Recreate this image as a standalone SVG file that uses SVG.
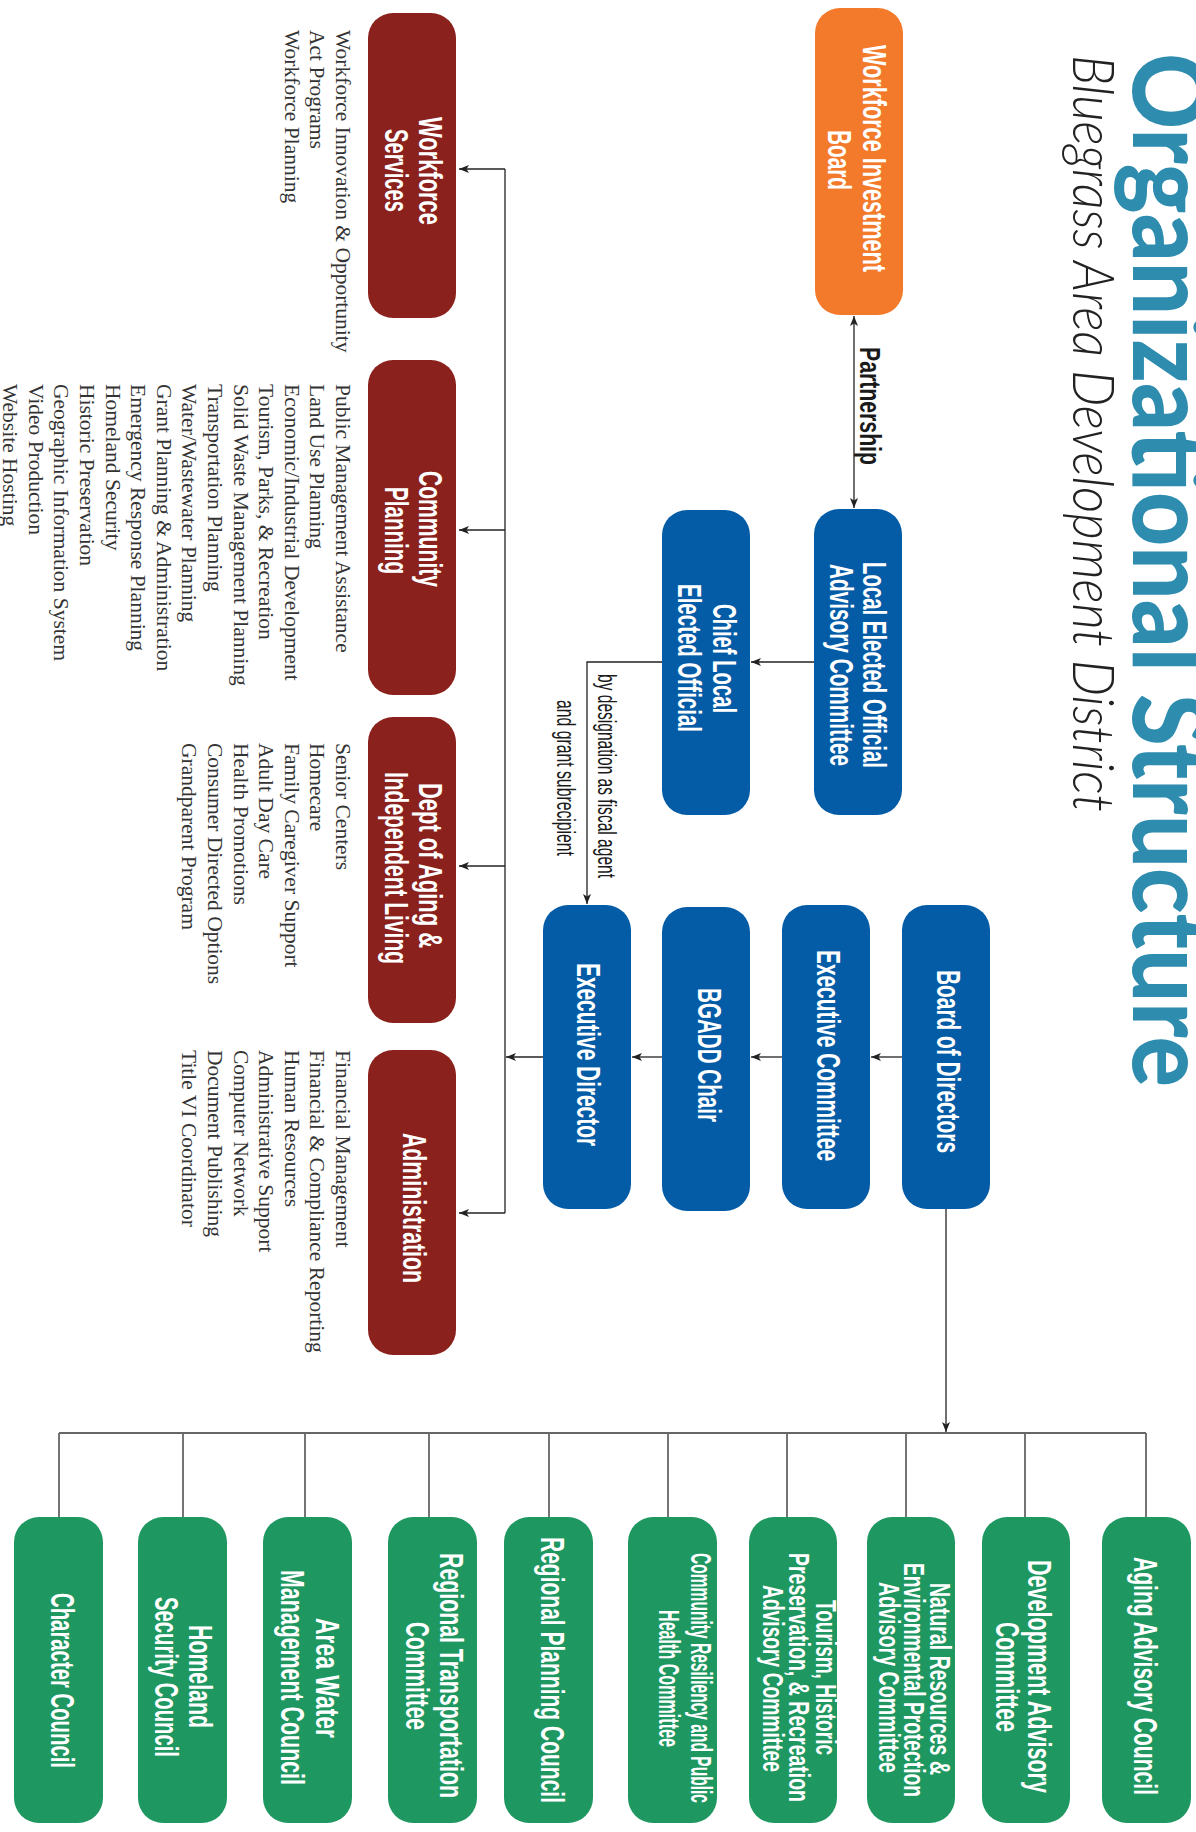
<svg xmlns="http://www.w3.org/2000/svg" width="1196" height="1832" viewBox="0 0 1196 1832">
<defs>
<marker id="arr" viewBox="0 0 10 8" refX="10" refY="4" markerWidth="10" markerHeight="8" markerUnits="userSpaceOnUse" orient="auto-start-reverse"><path d="M0,0 L10,4 L0,8 L2.5,4 z" fill="#222"/></marker>
</defs>
<style>
.t{font-family:"Liberation Sans",Arial,sans-serif;font-weight:bold;font-size:33px;fill:#fff}
.t29{font-size:29px}
.t30{font-size:30px}
.l{font-family:"Liberation Serif","Times New Roman",serif;font-size:21.5px;fill:#333}
.c{stroke:#222;stroke-width:1.3;fill:none}
.g{stroke:#666;stroke-width:1.8;fill:none}
.orange{fill:#F47A2B}
.blue{fill:#045CA7}
.red{fill:#8A211D}
.green{fill:#1E9761}
.lab{font-family:"Liberation Sans",Arial,sans-serif;fill:#1a1a1a}
</style>
<rect width="1196" height="1832" fill="#fff"/>

<g id="title">
<text transform="rotate(90)" x="53" y="-1133" textLength="1034" lengthAdjust="spacingAndGlyphs" style="font-family:Lato,'Liberation Sans',sans-serif;font-weight:900;font-size:104px;fill:#2E8CAF">Organizational Structure</text>
<text transform="rotate(90)" x="55" y="-1073" textLength="757" lengthAdjust="spacingAndGlyphs" style="font-family:Lato,'Liberation Sans',sans-serif;font-weight:300;font-style:italic;font-size:58px;fill:#222">Bluegrass Area Development District</text>
</g>

<g id="connectors">
<line class="c" x1="854" y1="316" x2="854" y2="508" marker-start="url(#arr)" marker-end="url(#arr)"/>
<text class="lab" transform="rotate(90)" x="347" y="-860" textLength="118" lengthAdjust="spacingAndGlyphs" style="font-weight:bold;font-size:29px">Partnership</text>
<line class="c" x1="814" y1="662" x2="751" y2="662" marker-end="url(#arr)"/>
<polyline class="c" points="662,662 587,662 587,904" marker-end="url(#arr)"/>
<text class="lab" transform="rotate(90)" x="674" y="-598" textLength="204" lengthAdjust="spacingAndGlyphs" style="font-size:26px">by designation as fiscal agent</text>
<text class="lab" transform="rotate(90)" x="700" y="-557" textLength="156" lengthAdjust="spacingAndGlyphs" style="font-size:26px">and grant subrecipient</text>
<line class="c" x1="902" y1="1057" x2="871" y2="1057" marker-end="url(#arr)"/>
<line class="c" x1="782" y1="1057" x2="751" y2="1057" marker-end="url(#arr)"/>
<line class="c" x1="662" y1="1057" x2="632" y2="1057" marker-end="url(#arr)"/>
<line class="c" x1="543" y1="1057" x2="506" y2="1057" marker-end="url(#arr)"/>
<line class="c" x1="505" y1="169" x2="505" y2="1213"/>
<line class="c" x1="505" y1="169" x2="459" y2="169" marker-end="url(#arr)"/>
<line class="c" x1="505" y1="530" x2="459" y2="530" marker-end="url(#arr)"/>
<line class="c" x1="505" y1="866" x2="459" y2="866" marker-end="url(#arr)"/>
<line class="c" x1="505" y1="1213" x2="459" y2="1213" marker-end="url(#arr)"/>
<line class="c" x1="946" y1="1209" x2="946" y2="1432" marker-end="url(#arr)"/>
<line class="g" x1="59" y1="1433" x2="1146" y2="1433"/>
<path class="g" d="M59,1433V1517 M183,1433V1517 M305,1433V1517 M429,1433V1517 M549,1433V1517 M668,1433V1517 M787,1433V1517 M906,1433V1517 M1025,1433V1517 M1146,1433V1517"/>
</g>

<g id="wib">
<rect class="orange" x="815" y="8" width="88" height="307" rx="25"/>
<text class="t" transform="rotate(90)" x="45" y="-863" textLength="227" lengthAdjust="spacingAndGlyphs">Workforce Investment</text>
<text class="t" transform="rotate(90)" x="130" y="-828" textLength="60" lengthAdjust="spacingAndGlyphs">Board</text>
</g>
<g id="leoac">
<rect class="blue" x="814" y="509" width="88" height="306" rx="25"/>
<text class="t" transform="rotate(90)" x="562" y="-863" textLength="206" lengthAdjust="spacingAndGlyphs">Local Elected Official</text>
<text class="t" transform="rotate(90)" x="564" y="-830" textLength="202" lengthAdjust="spacingAndGlyphs">Advisory Committee</text>
</g>
<g id="cleo">
<rect class="blue" x="662" y="510" width="88" height="305" rx="25"/>
<text class="t" transform="rotate(90)" x="604" y="-713" textLength="109" lengthAdjust="spacingAndGlyphs">Chief Local</text>
<text class="t" transform="rotate(90)" x="584" y="-678" textLength="148" lengthAdjust="spacingAndGlyphs">Elected Official</text>
</g>
<g id="bod">
<rect class="blue" x="902" y="905" width="88" height="304" rx="25"/>
<text class="t" transform="rotate(90)" x="970" y="-937" textLength="183" lengthAdjust="spacingAndGlyphs">Board of Directors</text>
</g>
<g id="ec">
<rect class="blue" x="782" y="905" width="88" height="304" rx="25"/>
<text class="t" transform="rotate(90)" x="950" y="-817" textLength="211" lengthAdjust="spacingAndGlyphs">Executive Committee</text>
</g>
<g id="bgadd">
<rect class="blue" x="662" y="907" width="88" height="304" rx="25"/>
<text class="t" transform="rotate(90)" x="988" y="-698" textLength="134" lengthAdjust="spacingAndGlyphs">BGADD Chair</text>
</g>
<g id="ed">
<rect class="blue" x="543" y="905" width="88" height="304" rx="25"/>
<text class="t" transform="rotate(90)" x="963" y="-577" textLength="183" lengthAdjust="spacingAndGlyphs">Executive Director</text>
</g>

<g id="ws">
<rect class="red" x="368" y="13" width="88" height="305" rx="25"/>
<text class="t" transform="rotate(90)" x="117" y="-419" textLength="108" lengthAdjust="spacingAndGlyphs">Workforce</text>
<text class="t" transform="rotate(90)" x="129" y="-385" textLength="83" lengthAdjust="spacingAndGlyphs">Services</text>
<text class="l" transform="rotate(90)"><tspan x="30" y="-336">Workforce Innovation &amp; Opportunity</tspan><tspan x="30" y="-310.4">Act Programs</tspan><tspan x="30" y="-284.8">Workforce Planning</tspan></text>
</g>
<g id="cp">
<rect class="red" x="368" y="360" width="88" height="335" rx="25"/>
<text class="t" transform="rotate(90)" x="471" y="-419" textLength="116" lengthAdjust="spacingAndGlyphs">Community</text>
<text class="t" transform="rotate(90)" x="487" y="-385" textLength="87" lengthAdjust="spacingAndGlyphs">Planning</text>
<text class="l" transform="rotate(90)"><tspan x="384" y="-336">Public Management Assistance</tspan><tspan x="384" y="-310.4">Land Use Planning</tspan><tspan x="384" y="-284.8">Economic/Industrial Development</tspan><tspan x="384" y="-259.2">Tourism, Parks, &amp; Recreation</tspan><tspan x="384" y="-233.6">Solid Waste Management Planning</tspan><tspan x="384" y="-208">Transportation Planning</tspan><tspan x="384" y="-182.4">Water/Wastewater Planning</tspan><tspan x="384" y="-156.8">Grant Planning &amp; Administration</tspan><tspan x="384" y="-131.2">Emergency Response Planning</tspan><tspan x="384" y="-105.6">Homeland Security</tspan><tspan x="384" y="-80">Historic Preservation</tspan><tspan x="384" y="-54.4">Geographic Information System</tspan><tspan x="384" y="-28.8">Video Production</tspan><tspan x="384" y="-3.2">Website Hosting</tspan></text>
</g>
<g id="aging">
<rect class="red" x="368" y="717" width="88" height="306" rx="25"/>
<text class="t" transform="rotate(90)" x="783" y="-419" textLength="165" lengthAdjust="spacingAndGlyphs">Dept of Aging &amp;</text>
<text class="t" transform="rotate(90)" x="772" y="-385" textLength="192" lengthAdjust="spacingAndGlyphs">Independent Living</text>
<text class="l" transform="rotate(90)"><tspan x="743" y="-336">Senior Centers</tspan><tspan x="743" y="-310.4">Homecare</tspan><tspan x="743" y="-284.8">Family Caregiver Support</tspan><tspan x="743" y="-259.2">Adult Day Care</tspan><tspan x="743" y="-233.6">Health Promotions</tspan><tspan x="743" y="-208">Consumer Directed Options</tspan><tspan x="743" y="-182.4">Grandparent Program</tspan></text>
</g>
<g id="admin">
<rect class="red" x="368" y="1050" width="88" height="305" rx="25"/>
<text class="t" transform="rotate(90)" x="1133" y="-403" textLength="150" lengthAdjust="spacingAndGlyphs">Administration</text>
<text class="l" transform="rotate(90)"><tspan x="1050" y="-336">Financial Management</tspan><tspan x="1050" y="-310.4">Financial &amp; Compliance Reporting</tspan><tspan x="1050" y="-284.8">Human Resources</tspan><tspan x="1050" y="-259.2">Administrative Support</tspan><tspan x="1050" y="-233.6">Computer Network</tspan><tspan x="1050" y="-208">Document Publishing</tspan><tspan x="1050" y="-182.4">Title VI Coordinator</tspan></text>
</g>

<g id="character">
<rect class="green" x="14" y="1517" width="89" height="306" rx="25"/>
<text class="t" transform="rotate(90)" x="1593" y="-51" textLength="175" lengthAdjust="spacingAndGlyphs">Character Council</text>
</g>
<g id="homeland">
<rect class="green" x="138" y="1517" width="89" height="306" rx="25"/>
<text class="t" transform="rotate(90)" x="1625" y="-189" textLength="103" lengthAdjust="spacingAndGlyphs">Homeland</text>
<text class="t" transform="rotate(90)" x="1597" y="-155" textLength="160" lengthAdjust="spacingAndGlyphs">Security Council</text>
</g>
<g id="water">
<rect class="green" x="263" y="1517" width="89" height="306" rx="25"/>
<text class="t" transform="rotate(90)" x="1618" y="-316" textLength="120" lengthAdjust="spacingAndGlyphs">Area Water</text>
<text class="t" transform="rotate(90)" x="1570" y="-281" textLength="215" lengthAdjust="spacingAndGlyphs">Management Council</text>
</g>
<g id="rtc">
<rect class="green" x="388" y="1517" width="89" height="306" rx="25"/>
<text class="t" transform="rotate(90)" x="1553" y="-440" textLength="245" lengthAdjust="spacingAndGlyphs">Regional Transportation</text>
<text class="t" transform="rotate(90)" x="1622" y="-406" textLength="108" lengthAdjust="spacingAndGlyphs">Committee</text>
</g>
<g id="rpc">
<rect class="green" x="504" y="1517" width="89" height="306" rx="25"/>
<text class="t" transform="rotate(90)" x="1537" y="-541" textLength="266" lengthAdjust="spacingAndGlyphs">Regional Planning Council</text>
</g>
<g id="crphc">
<rect class="green" x="628" y="1517" width="89" height="306" rx="25"/>
<text class="t t30" transform="rotate(90)" x="1553" y="-691" textLength="250" lengthAdjust="spacingAndGlyphs">Community Resiliency and Public</text>
<text class="t t30" transform="rotate(90)" x="1610" y="-659" textLength="137" lengthAdjust="spacingAndGlyphs">Health Committee</text>
</g>
<g id="tourism">
<rect class="green" x="749" y="1517" width="88" height="306" rx="25"/>
<text class="t t29" transform="rotate(90)" x="1600" y="-816" textLength="155" lengthAdjust="spacingAndGlyphs">Tourism, Historic</text>
<text class="t t29" transform="rotate(90)" x="1553" y="-789" textLength="249" lengthAdjust="spacingAndGlyphs">Preservation, &amp; Recreation</text>
<text class="t t29" transform="rotate(90)" x="1585" y="-763" textLength="187" lengthAdjust="spacingAndGlyphs">Advisory Committee</text>
</g>
<g id="natural">
<rect class="green" x="867" y="1517" width="88" height="306" rx="25"/>
<text class="t t29" transform="rotate(90)" x="1583" y="-930" textLength="192" lengthAdjust="spacingAndGlyphs">Natural Resources &amp;</text>
<text class="t t29" transform="rotate(90)" x="1563" y="-904" textLength="234" lengthAdjust="spacingAndGlyphs">Environmental Protection</text>
<text class="t t29" transform="rotate(90)" x="1582" y="-879" textLength="191" lengthAdjust="spacingAndGlyphs">Advisory Committee</text>
</g>
<g id="development">
<rect class="green" x="982" y="1517" width="88" height="306" rx="25"/>
<text class="t" transform="rotate(90)" x="1560" y="-1028" textLength="233" lengthAdjust="spacingAndGlyphs">Development Advisory</text>
<text class="t" transform="rotate(90)" x="1622" y="-996" textLength="110" lengthAdjust="spacingAndGlyphs">Committee</text>
</g>
<g id="agingadv">
<rect class="green" x="1102" y="1517" width="89" height="306" rx="25"/>
<text class="t" transform="rotate(90)" x="1557" y="-1134" textLength="238" lengthAdjust="spacingAndGlyphs">Aging Advisory Council</text>
</g>
</svg>
